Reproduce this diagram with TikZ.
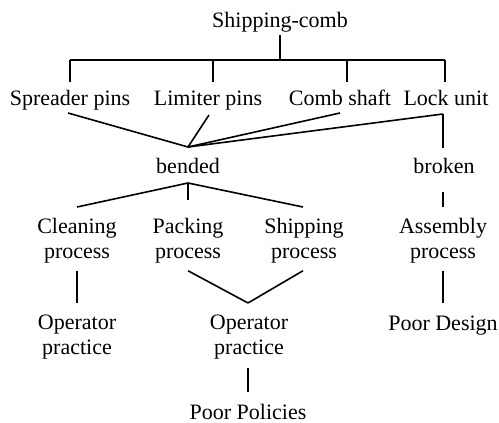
\documentclass[tikz,border=0pt]{standalone}
\usepackage{fontspec}
\setmainfont{Liberation Serif}
\usepackage{tikz}
\tikzset{
  lbl/.style={inner sep=0pt, anchor=base, font=\fontsize{11}{12.5}\selectfont},
  twoline/.style={lbl, anchor=north, align=center},
  link/.style={line width=0.8pt}
}

\begin{document}
\begin{tikzpicture}[x=0.5pt, y=-0.5pt]
      \useasboundingbox (0,0) rectangle (499,423);
      % the part
      \node [lbl] (comb) at (280,27) {Shipping-comb};
      % components
      \node [lbl] (spreader) at (70,105) {Spreader pins};
      \node [lbl] (limiter) at (208,105) {Limiter pins};
      \node [lbl] (shaft) at (340,105) {Comb shaft};
      \node [lbl] (lock) at (446,105) {Lock unit};
      % failure modes
      \node [lbl] (bended) at (188,173) {bended};
      \node [lbl] (broken) at (444,173) {broken};
      % processes
      \node [twoline] (cleaning) at (77,218) {Cleaning\\process};
      \node [twoline] (packing) at (188,218) {Packing\\process};
      \node [twoline] (shipproc) at (304,218) {Shipping\\process};
      \node [twoline] (assembly) at (443,218) {Assembly\\process};
      % causes
      \node [twoline] (opleft) at (77,315) {Operator\\practice};
      \node [twoline] (opmid) at (249,315) {Operator\\practice};
      \node [lbl] (design) at (443,330) {Poor Design};
      \node [lbl] (policies) at (248,419) {Poor Policies};
      % junctions
      \coordinate (bar) at ([shift={(0,33)}]comb.base);
      \coordinate (bj) at ([shift={(0,-26)}]bended.base);
      \coordinate (oj) at ([shift={(-1,-12)}]opmid.north);
      % tree lines
      \draw [link] ([shift={(0,8)}]comb.base) -- (bar);
      \draw [link] ([shift={(0,-45)}]spreader.base) -- ([shift={(-1,-45)}]lock.base);
      \draw [link] ([shift={(0,-45)}]spreader.base) -- ([shift={(0,-23)}]spreader.base);
      \draw [link] ([shift={(5,-45)}]limiter.base) -- ([shift={(5,-23)}]limiter.base);
      \draw [link] ([shift={(7,-45)}]shaft.base) -- ([shift={(7,-23)}]shaft.base);
      \draw [link] ([shift={(-1,-45)}]lock.base) -- ([shift={(-1,-23)}]lock.base);
      \draw [link] ([shift={(-2,8)}]spreader.base) -- (bj);
      \draw [link] ([shift={(1,10)}]limiter.base) -- (bj);
      \draw [link] ([shift={(0,8)}]shaft.base) -- (bj);
      \draw [link] ([shift={(-3,9)}]lock.base) -- (bj);
      \draw [link] ([shift={(-3,9)}]lock.base) -- ([shift={(-1,-25)}]broken.base);
      \draw [link] ([shift={(0,10)}]bended.base) -- ([shift={(0,-11)}]cleaning.north);
      \draw [link] ([shift={(0,10)}]bended.base) -- ([shift={(0,-18)}]packing.north);
      \draw [link] ([shift={(0,10)}]bended.base) -- ([shift={(-1,-11)}]shipproc.north);
      \draw [link] ([shift={(-1,19)}]broken.base) -- ([shift={(0,-11)}]assembly.north);
      \draw [link] ([shift={(0,7)}]cleaning.south) -- ([shift={(0,-12)}]opleft.north);
      \draw [link] ([shift={(0,7)}]packing.south) -- (oj);
      \draw [link] ([shift={(-1,7)}]shipproc.south) -- (oj);
      \draw [link] ([shift={(0,7)}]assembly.south) -- ([shift={(0,-27)}]design.base);
      \draw [link] ([shift={(-1,8)}]opmid.south) -- ([shift={(0,-27)}]policies.base);
\end{tikzpicture}
\end{document}
